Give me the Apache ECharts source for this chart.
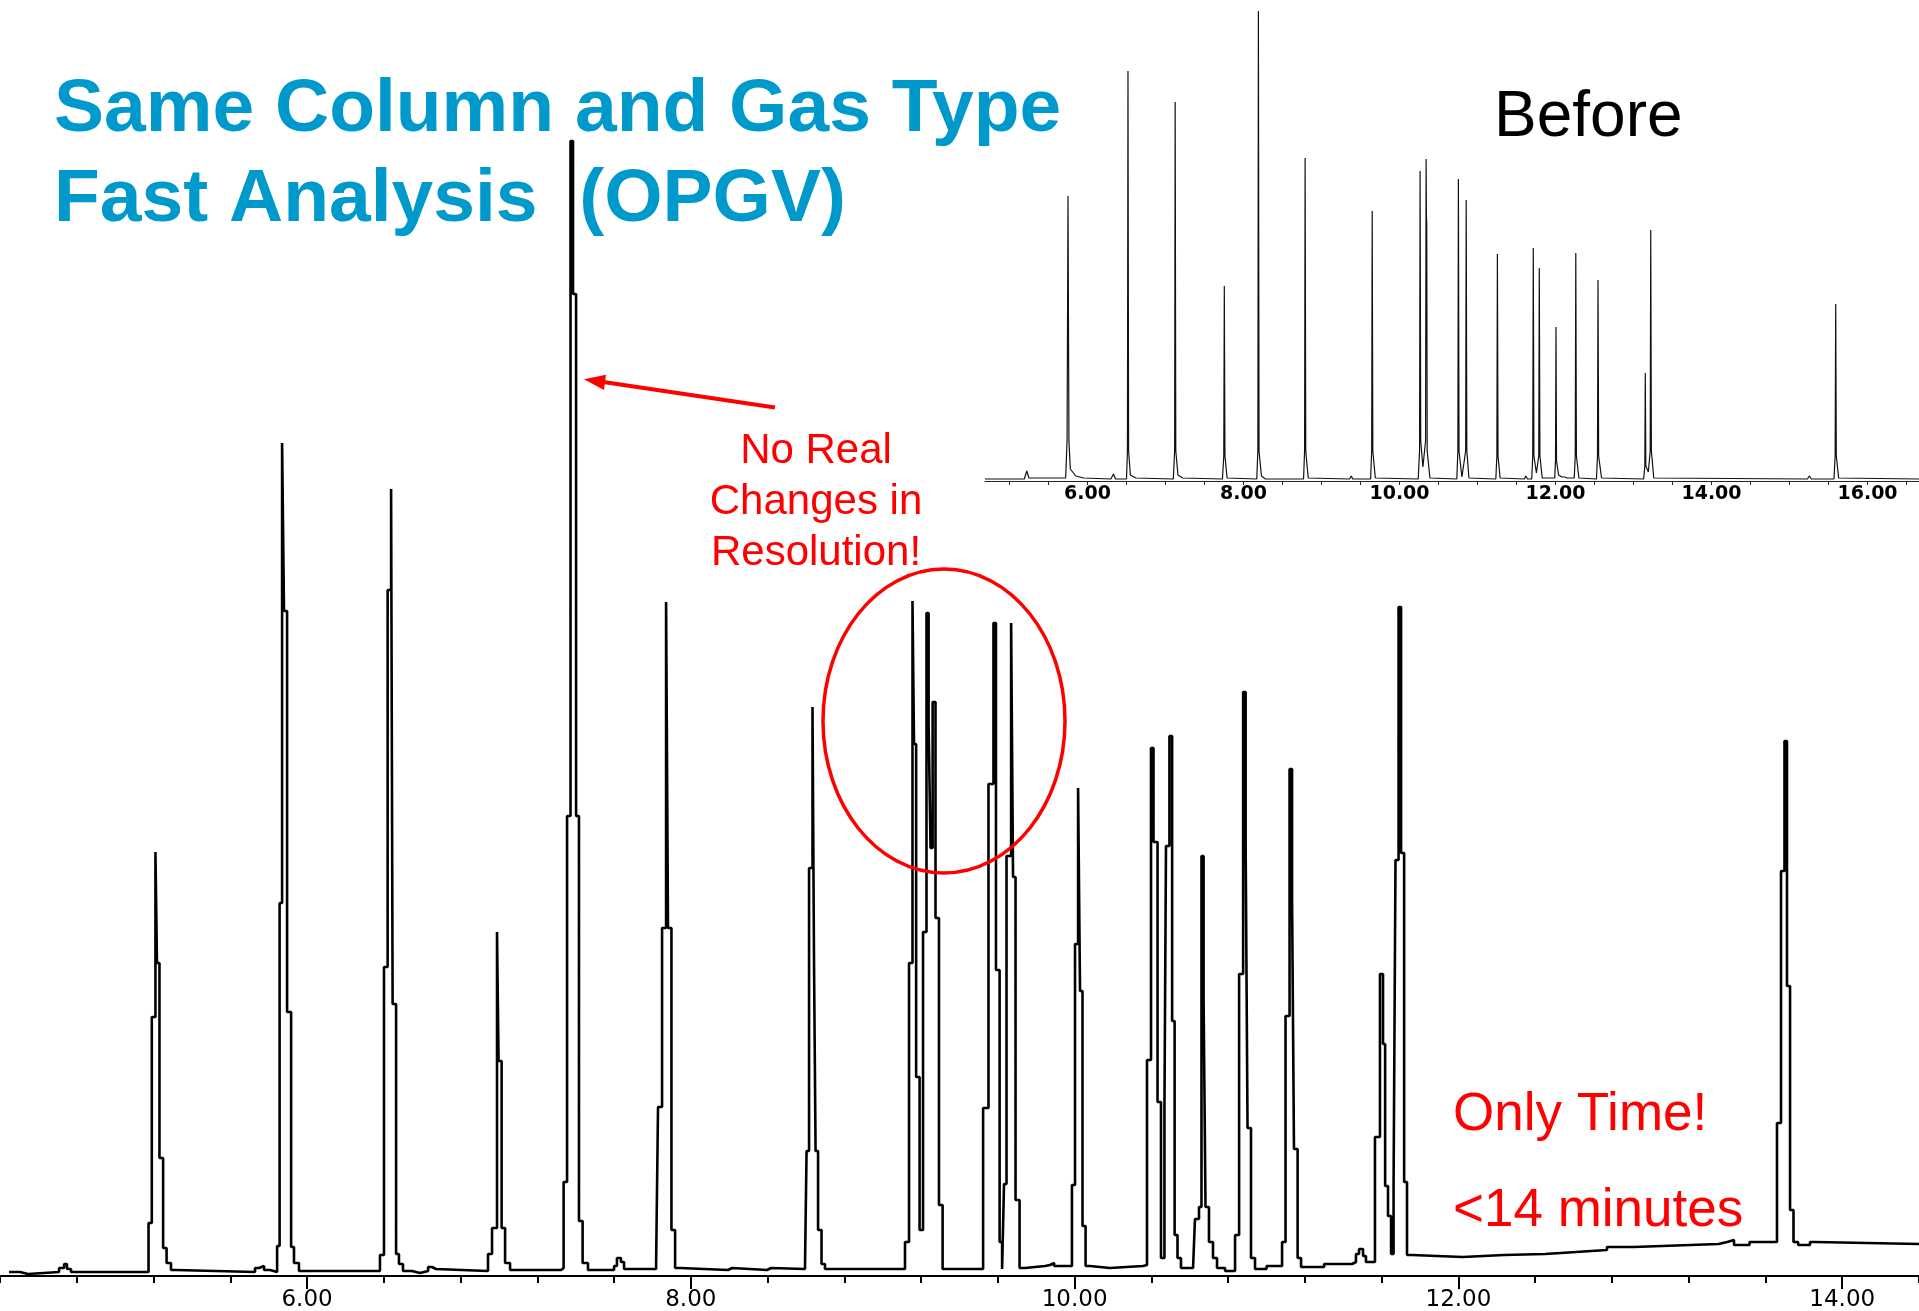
<!DOCTYPE html>
<html>
<head>
<meta charset="utf-8">
<script src="https://cdn.jsdelivr.net/npm/echarts@6/dist/echarts.min.js"></script>
<style>
html,body{margin:0;padding:0;background:#ffffff;}
#chart{width:1919px;height:1311px;}
</style>
</head>
<body>
<div id="chart"></div>
<script>
// ---- "After" (fast) chromatogram: retention time (min) and detector signal (arbitrary units)
const afterTime = [4.447, 4.504, 4.546, 4.708, 4.734, 4.749, 4.770,
  5.174, 5.191, 5.210, 5.218, 5.231, 5.250, 5.268, 5.291, 5.317,
  5.729, 5.750, 5.776, 5.807,
  5.844, 5.857, 5.870, 5.880, 5.896, 5.917, 5.932, 5.958,
  6.380, 6.401, 6.420, 6.438, 6.446, 6.464, 6.479, 6.500,
  6.547, 6.589, 6.631, 6.651, 6.672,
  6.943, 6.964, 6.990, 6.998, 7.014, 7.032, 7.058,
  7.324, 7.337, 7.355, 7.373, 7.386, 7.402, 7.417, 7.436, 7.464,
  7.600, 7.615, 7.636, 7.652,
  7.819, 7.829, 7.850, 7.871, 7.881, 7.899, 7.918, 7.944,
  8.194, 8.215, 8.397, 8.418,
  8.595, 8.603, 8.616, 8.634, 8.642, 8.650, 8.663, 8.681, 8.699,
  9.116, 9.137, 9.155, 9.163, 9.174, 9.192, 9.210, 9.228, 9.239, 9.249, 9.260, 9.275, 9.293, 9.312,
  9.523, 9.551, 9.577, 9.590, 9.609, 9.622, 9.632, 9.645, 9.669, 9.679, 9.692, 9.713, 9.741,
  9.846, 9.872, 9.893,
  9.986, 10.002, 10.018, 10.028, 10.041, 10.057, 10.080, 10.184,
  10.356, 10.377, 10.398, 10.411, 10.432, 10.450, 10.468, 10.476, 10.494, 10.508, 10.521, 10.536, 10.554,
  10.617, 10.627, 10.648, 10.661, 10.672, 10.682, 10.700, 10.721, 10.742, 10.784,
  10.836, 10.857, 10.878, 10.891, 10.901, 10.919, 10.940, 11.000,
  11.081, 11.099, 11.120, 11.133, 11.143, 11.162, 11.180, 11.300,
  11.446, 11.466, 11.482, 11.503, 11.518,
  11.565, 11.591, 11.607, 11.618, 11.633, 11.649, 11.662, 11.672, 11.688, 11.701, 11.717, 11.732, 11.758,
  12.021, 12.238, 12.451, 12.613, 12.774, 12.915, 13.061, 13.356, 13.400, 13.436, 13.517,
  13.660, 13.681, 13.699, 13.712, 13.728, 13.746, 13.770, 13.832, 13.858, 14.400];
const afterSignal = [4, 2, 4, 8, 12, 7, 4,
  53, 259, 424, 313, 118, 28, 13, 6, 4,
  8, 10, 6, 4,
  30, 373, 833, 665, 264, 29, 13, 5,
  21, 309, 686, 787, 272, 22, 12, 5,
  3, 5, 9, 7, 5,
  22, 48, 344, 215, 48, 13, 6,
  8, 94, 460, 1135, 982, 460, 55, 13, 6,
  10, 18, 14, 7,
  12, 169, 348, 674, 348, 46, 8, 6,
  8, 6, 8, 7,
  10, 125, 408, 569, 311, 125, 46, 12, 7,
  34, 313, 675, 532, 199, 46, 344, 663, 553, 428, 574, 358, 71, 7,
  168, 492, 653, 306, 34, 7, 92, 420, 653, 399, 76, 8, 10,
  11, 13, 10,
  91, 332, 488, 285, 50, 10, 8, 10,
  11, 216, 528, 434, 174, 18, 167, 430, 540, 255, 41, 18, 8,
  6, 57, 69, 420, 276, 69, 34, 18, 8, 5,
  41, 302, 584, 434, 148, 18, 7, 10,
  34, 260, 507, 377, 127, 18, 9, 12,
  14, 22, 27, 20, 14,
  139, 302, 232, 90, 60, 22, 92, 416, 669, 423, 94, 21, 19,
  21, 22, 24, 26, 29, 30, 32, 34, 36, 31, 34,
  153, 405, 535, 290, 66, 34, 31, 34, 32, 32];

// ---- "Before" (original) chromatogram
const beforeTime = [4.686, 5.190, 5.221, 5.250,
  5.720, 5.738, 5.750, 5.762, 5.780, 5.850, 5.950,
  6.300, 6.333, 6.360,
  6.500, 6.512, 6.519, 6.527, 6.550, 6.620,
  7.100, 7.117, 7.124, 7.132, 7.160, 7.220,
  7.730, 7.747, 7.754, 7.762, 7.790,
  8.170, 8.184, 8.191, 8.199, 8.230, 8.280,
  8.490, 8.514, 8.540,
  8.770, 8.783, 8.790, 8.798, 8.830,
  9.360, 9.382, 9.400,
  9.630, 9.643, 9.650, 9.658, 9.690,
  10.240, 10.257, 10.264, 10.272, 10.300, 10.334, 10.341, 10.345, 10.349, 10.355, 10.390,
  10.735, 10.748, 10.755, 10.763, 10.800, 10.848, 10.855, 10.863, 10.890,
  11.235, 11.248, 11.255, 11.263, 11.290,
  11.600, 11.620, 11.640,
  11.695, 11.708, 11.715, 11.723, 11.755, 11.785, 11.792, 11.800, 11.830,
  11.990, 12.000, 12.006, 12.013, 12.040, 12.080, 12.120, 12.150,
  12.240, 12.253, 12.260, 12.268, 12.300,
  12.525, 12.538, 12.545, 12.553, 12.590,
  13.130, 13.145, 13.151, 13.158, 13.190, 13.214, 13.221, 13.229, 13.260,
  15.230, 15.254, 15.280,
  15.570, 15.585, 15.592, 15.600, 15.630, 16.660];
const beforeSignal = [2, 2, 10, 3,
  3, 40, 285, 40, 12, 5, 3,
  2, 7, 2,
  2, 30, 410, 30, 6, 3,
  2, 30, 379, 30, 6, 3,
  2, 25, 195, 25, 3,
  2, 30, 470, 30, 5, 2,
  2, 4, 2,
  2, 30, 323, 30, 3,
  2, 5, 2,
  2, 30, 270, 30, 3,
  2, 30, 310, 40, 14, 40, 322, 265, 258, 30, 3,
  2, 30, 302, 30, 4, 30, 281, 30, 3,
  2, 25, 227, 25, 3,
  2, 5, 2,
  2, 25, 233, 25, 8, 25, 213, 25, 3,
  3, 20, 154, 20, 6, 4, 4, 3,
  3, 25, 228, 25, 3,
  2, 25, 201, 25, 3,
  2, 15, 108, 15, 9, 30, 251, 30, 3,
  2, 5, 2,
  2, 25, 177, 25, 3, 2];

// ---- axis ticks / labels
const afterMajorTicks = [6, 8, 10, 12, 14];
const beforeMinorTicks = [5, 5.5, 6, 6.5, 7, 7.5, 8, 8.5, 9, 9.5, 10, 10.5, 11, 11.5, 12, 12.5, 13, 13.5, 14, 14.5, 15, 15.5, 16, 16.5];
const beforeMajorTicks = [6, 8, 10, 12, 14, 16];

// ---- texts
const titleLines = ['Same Column and Gas Type', 'Fast Analysis  (OPGV)'];
const insetTitle = 'Before';
const noteLines = ['No Real', 'Changes in', 'Resolution!'];
const timeLines = ['Only Time!', '<14 minutes'];

function pairs(xs, ys) {
  const n = Math.min(xs.length, ys.length);
  const out = [];
  for (let i = 0; i < n; i++) out.push([xs[i], ys[i]]);
  return out;
}

const chart = echarts.init(document.getElementById('chart'), null, {renderer: 'canvas', width: 1919, height: 1311});

const BLUE = '#0099cc';
const RED = '#ff0000';

const graphics = [];
titleLines.forEach((t, i) => {
  graphics.push({
    type: 'text', z: 50,
    style: {
      text: t, x: 54, y: 110 + i * 90,
      font: 'bold 75px "Liberation Sans", Arial, sans-serif',
      fill: BLUE, textAlign: 'left', textVerticalAlign: 'middle', align: 'left', verticalAlign: 'middle'
    }
  });
});
graphics.push({
  type: 'text', z: 50,
  style: {
    text: insetTitle, x: 1494, y: 118,
    font: '64px "Liberation Sans", Arial, sans-serif',
    fill: '#000000', textAlign: 'left', textVerticalAlign: 'middle', align: 'left', verticalAlign: 'middle'
  }
});
noteLines.forEach((t, i) => {
  graphics.push({
    type: 'text', z: 50,
    style: {
      text: t, x: 816, y: 451 + i * 51,
      font: '42px "Liberation Sans", Arial, sans-serif',
      fill: RED, textAlign: 'center', textVerticalAlign: 'middle', align: 'center', verticalAlign: 'middle'
    }
  });
});
timeLines.forEach((t, i) => {
  graphics.push({
    type: 'text', z: 50,
    style: {
      text: t, x: 1453, y: 1115 + i * 96,
      font: '53px "Liberation Sans", Arial, sans-serif',
      fill: RED, textAlign: 'left', textVerticalAlign: 'middle', align: 'left', verticalAlign: 'middle'
    }
  });
});
// red ellipse around the critical pairs
graphics.push({
  type: 'ellipse', z: 60,
  shape: {cx: 944, cy: 721, rx: 121, ry: 152},
  style: {fill: 'none', stroke: RED, lineWidth: 3.5}
});
// red arrow pointing to the largest peak
graphics.push({
  type: 'line', z: 60,
  shape: {x1: 775, y1: 407.6, x2: 600, y2: 381.6},
  style: {stroke: RED, lineWidth: 4}
});
graphics.push({
  type: 'polygon', z: 60,
  shape: {points: [[584, 379.3], [606, 374.8], [604, 390]]},
  style: {fill: RED}
});

const option = {
  animation: false,
  backgroundColor: '#ffffff',
  grid: [
    {left: 0, right: 0, top: 0, bottom: 35, containLabel: false, outerBoundsMode: 'none'},
    {left: 985, right: 0, top: 0, bottom: 830, containLabel: false, outerBoundsMode: 'none'}
  ],
  xAxis: [
    {
      gridIndex: 0, type: 'value', min: 4.4, max: 14.4, interval: 0.4,
      axisLine: {show: true, onZero: false, lineStyle: {color: '#000', width: 2}},
      axisTick: {show: true, length: 7, lineStyle: {color: '#000', width: 2}},
      axisLabel: {show: false},
      splitLine: {show: false}
    },
    {
      gridIndex: 0, type: 'value', min: 4.4, max: 14.4, position: 'bottom', offset: 0,
      axisLine: {show: false, onZero: false},
      axisTick: {show: true, length: 13, customValues: afterMajorTicks, lineStyle: {color: '#000', width: 2}},
      axisLabel: {
        show: true, customValues: afterMajorTicks, margin: 13,
        formatter: v => Number(v).toFixed(2),
        fontFamily: '"DejaVu Sans", sans-serif', fontSize: 23, color: '#000'
      },
      splitLine: {show: false}
    },
    {
      gridIndex: 1, type: 'value', min: 4.686, max: 16.66, position: 'bottom',
      axisLine: {show: true, onZero: false, lineStyle: {color: '#222', width: 1}},
      axisTick: {show: true, length: 4, customValues: beforeMinorTicks, lineStyle: {color: '#222', width: 1}},
      axisLabel: {
        show: true, customValues: beforeMajorTicks, margin: 4,
        formatter: v => Number(v).toFixed(2),
        fontFamily: '"DejaVu Sans", sans-serif', fontWeight: 'bold', fontSize: 19, color: '#000'
      },
      splitLine: {show: false}
    }
  ],
  yAxis: [
    {gridIndex: 0, type: 'value', min: 0, max: 1276, show: false, splitLine: {show: false}},
    {gridIndex: 1, type: 'value', min: 0, max: 481, show: false, splitLine: {show: false}}
  ],
  series: [
    {
      name: 'After', type: 'line', xAxisIndex: 0, yAxisIndex: 0,
      data: pairs(afterTime, afterSignal),
      step: 'end', symbol: 'none', showSymbol: false, silent: true,
      lineStyle: {color: '#000', width: 2.6}, z: 5
    },
    {
      name: 'Before', type: 'line', xAxisIndex: 2, yAxisIndex: 1,
      data: pairs(beforeTime, beforeSignal),
      symbol: 'none', showSymbol: false, silent: true,
      lineStyle: {color: '#111', width: 1.2}, z: 5
    }
  ],
  graphic: graphics
};
chart.setOption(option);
</script>
</body>
</html>
